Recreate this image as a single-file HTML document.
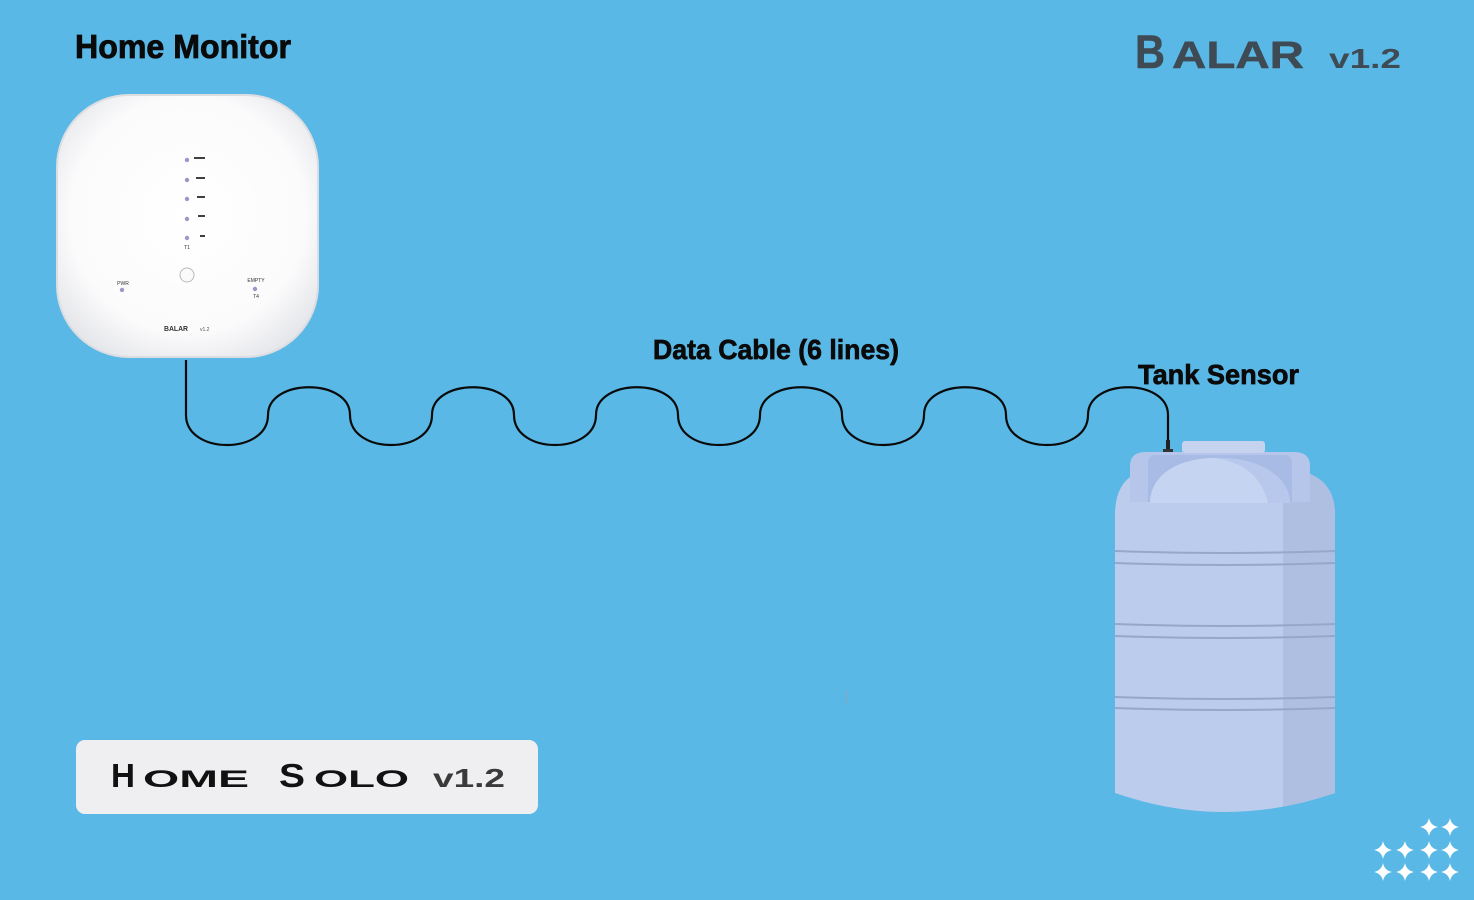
<!DOCTYPE html>
<html>
<head>
<meta charset="utf-8">
<style>
  html,body{margin:0;padding:0;background:#59b8e5;}
  svg{display:block;}
</style>
</head>
<body>
<svg width="1474" height="900" viewBox="0 0 1474 900" xmlns="http://www.w3.org/2000/svg">
  <defs>
    <radialGradient id="dev" cx="50%" cy="46%" r="64%">
      <stop offset="0%" stop-color="#ffffff"/>
      <stop offset="70%" stop-color="#fbfbfc"/>
      <stop offset="100%" stop-color="#e2e3e7"/>
    </radialGradient>
    <clipPath id="tankclip">
      <path d="M1115 793 L1115 515 Q1115 484 1135 474 L1310 474 Q1335 484 1335 515 L1335 793 Q1225 831 1115 793 Z"/>
    </clipPath>
    <path id="star" d="M0 -9 Q1.5 -1.5 9 0 Q1.5 1.5 0 9 Q-1.5 1.5 -9 0 Q-1.5 -1.5 0 -9 Z"/>
  </defs>

  <rect x="0" y="0" width="1474" height="900" fill="#59b8e5"/>

  <!-- Titles -->
  <text x="75" y="58" font-family="Liberation Sans, sans-serif" font-weight="bold" font-size="33" fill="#0a0a0a" stroke="#0a0a0a" stroke-width="0.8" textLength="216" lengthAdjust="spacingAndGlyphs">Home Monitor</text>

  <text x="1135" y="68" font-family="Liberation Sans, sans-serif" font-weight="bold" font-size="47" fill="#3e4a54" stroke="#3e4a54" stroke-width="0.5" textLength="30" lengthAdjust="spacingAndGlyphs">B</text>
  <text x="1172" y="68" font-family="Liberation Sans, sans-serif" font-weight="bold" font-size="38" fill="#3e4a54" stroke="#3e4a54" stroke-width="0.5" textLength="132" lengthAdjust="spacingAndGlyphs">ALAR</text>
  <text x="1329" y="68" font-family="Liberation Sans, sans-serif" font-weight="bold" font-size="28" fill="#3e4a54" textLength="72" lengthAdjust="spacingAndGlyphs">v1.2</text>

  <!-- Home monitor device -->
  <rect x="57" y="95" width="261" height="262" rx="72" ry="72" fill="url(#dev)" stroke="#dcdde2" stroke-width="2"/>
  <g fill="#9a98c8">
    <circle cx="187" cy="160" r="2.2"/>
    <circle cx="187" cy="180" r="2.2"/>
    <circle cx="187" cy="199" r="2.2"/>
    <circle cx="187" cy="219" r="2.2"/>
    <circle cx="187" cy="238" r="2.2"/>
    <circle cx="122" cy="290" r="2.2"/>
    <circle cx="255" cy="289" r="2.2"/>
  </g>
  <g stroke="#111" stroke-width="1.6">
    <line x1="194" y1="158" x2="205" y2="158"/>
    <line x1="196" y1="178" x2="205" y2="178"/>
    <line x1="197" y1="197" x2="205" y2="197"/>
    <line x1="198" y1="216" x2="205" y2="216"/>
    <line x1="200" y1="236" x2="205" y2="236"/>
  </g>
  <g font-family="Liberation Sans, sans-serif" font-size="5" fill="#333" text-anchor="middle">
    <text x="187" y="249">T1</text>
    <text x="123" y="285">PWR</text>
    <text x="256" y="282">EMPTY</text>
    <text x="256" y="298">T4</text>
  </g>
  <circle cx="187" cy="275" r="7" fill="#fafafa" stroke="#b8b8c0" stroke-width="1"/>
  <text x="164" y="331" font-family="Liberation Sans, sans-serif" font-weight="bold" font-size="7" fill="#333" textLength="24" lengthAdjust="spacingAndGlyphs">BALAR</text>
  <text x="200" y="331" font-family="Liberation Sans, sans-serif" font-size="5" fill="#555">v1.2</text>

  <!-- Cable -->
  <path d="M186 360 V415
           C186 455 268 455 268 415 C268 378 350 378 350 415
           C350 455 432 455 432 415 C432 378 514 378 514 415
           C514 455 596 455 596 415 C596 378 678 378 678 415
           C678 455 760 455 760 415 C760 378 842 378 842 415
           C842 455 924 455 924 415 C924 378 1006 378 1006 415
           C1006 455 1088 455 1088 415 C1088 378 1168 378 1168 415
           V448"
        fill="none" stroke="#0a0a0a" stroke-width="2.2"/>
  <rect x="1166" y="440" width="4" height="11" fill="#222"/>
  <rect x="1163" y="449" width="10" height="3" fill="#333"/>

  <text x="653" y="359" font-family="Liberation Sans, sans-serif" font-weight="bold" font-size="28" fill="#0a0a0a" stroke="#0a0a0a" stroke-width="0.7" textLength="246" lengthAdjust="spacingAndGlyphs">Data Cable (6 lines)</text>
  <text x="1138" y="384" font-family="Liberation Sans, sans-serif" font-weight="bold" font-size="28" fill="#0a0a0a" stroke="#0a0a0a" stroke-width="0.7" textLength="161" lengthAdjust="spacingAndGlyphs">Tank Sensor</text>

  <!-- Tank -->
  <path d="M1115 793 L1115 515 Q1115 484 1135 474 L1310 474 Q1335 484 1335 515 L1335 793 Q1225 831 1115 793 Z" fill="#bccced"/>
  <g clip-path="url(#tankclip)">
    <rect x="1283" y="470" width="60" height="360" fill="#afbfe1"/>
    <!-- bands -->
    <g fill="none" stroke="#97a7c9" stroke-width="2">
      <path d="M1115 551 Q1225 555 1335 551"/>
      <path d="M1115 563 Q1225 567 1335 563"/>
      <path d="M1115 624 Q1225 628 1335 624"/>
      <path d="M1115 636 Q1225 640 1335 636"/>
      <path d="M1115 697 Q1225 701 1335 697"/>
      <path d="M1115 708 Q1225 712 1335 708"/>
    </g>
  </g>
  <!-- handles / saddle -->
  <path d="M1130 502 L1130 466 Q1130 452 1146 452 L1294 452 Q1310 452 1310 466 L1310 502 Z" fill="#b6c6ea"/>
  <path d="M1148 502 L1148 462 Q1148 455 1156 455 L1284 455 Q1292 455 1292 462 L1292 502 Z" fill="#a8bbe4"/>
  <path d="M1150 503 C1150 474 1185 458 1222 458 C1258 458 1290 476 1290 503 Z" fill="#b8c8ec"/>
  <path d="M1150 503 C1150 474 1180 458 1214 458 C1245 462 1262 478 1268 503 Z" fill="#c5d4f1"/>
  <rect x="1182" y="441" width="83" height="12" rx="3" fill="#c6d3ef"/>

  <!-- stray mark -->
  <line x1="847" y1="690" x2="847" y2="703" stroke="#8aa4bf" stroke-width="1"/>

  <!-- Home Solo badge -->
  <rect x="76" y="740" width="462" height="74" rx="9" ry="9" fill="#efeff1"/>
  <text x="111" y="787" font-family="Liberation Sans, sans-serif" font-weight="bold" font-size="33" fill="#111" textLength="24" lengthAdjust="spacingAndGlyphs">H</text>
  <text x="143" y="787" font-family="Liberation Sans, sans-serif" font-weight="bold" font-size="24" fill="#111" textLength="106" lengthAdjust="spacingAndGlyphs">OME</text>
  <text x="279" y="787" font-family="Liberation Sans, sans-serif" font-weight="bold" font-size="33" fill="#111" textLength="26" lengthAdjust="spacingAndGlyphs">S</text>
  <text x="314" y="787" font-family="Liberation Sans, sans-serif" font-weight="bold" font-size="24" fill="#111" textLength="95" lengthAdjust="spacingAndGlyphs">OLO</text>
  <text x="433" y="787" font-family="Liberation Sans, sans-serif" font-weight="bold" font-size="26" fill="#3a3a3a" textLength="72" lengthAdjust="spacingAndGlyphs">v1.2</text>

  <!-- Stars -->
  <g fill="#ffffff">
    <use href="#star" x="1429" y="827"/>
    <use href="#star" x="1450" y="827"/>
    <use href="#star" x="1383" y="850"/>
    <use href="#star" x="1405" y="850"/>
    <use href="#star" x="1429" y="850"/>
    <use href="#star" x="1450" y="850"/>
    <use href="#star" x="1383" y="872"/>
    <use href="#star" x="1405" y="872"/>
    <use href="#star" x="1429" y="872"/>
    <use href="#star" x="1450" y="872"/>
  </g>
</svg>
</body>
</html>
